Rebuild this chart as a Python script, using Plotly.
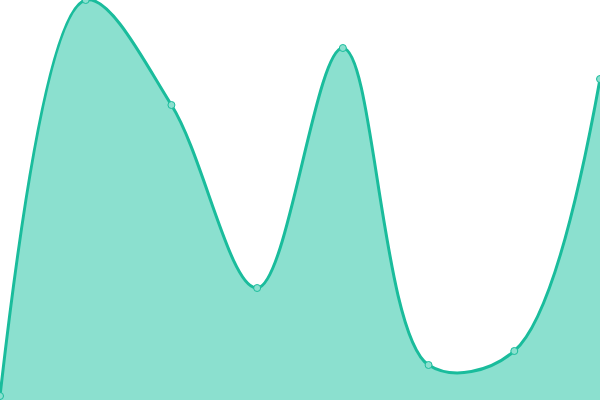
import plotly.graph_objects as go

# point positions and values
x_vals = [0, 1, 2, 3, 4, 5, 6, 7]
y_vals = [4, 400, 295, 112, 352, 35, 49, 321]

line_color = "#1abc9c"
fill_color = "#8be0cf"

fig = go.Figure()
fig.add_trace(go.Scatter(
    x=x_vals,
    y=y_vals,
    mode="lines+markers",
    line=dict(color=line_color, width=3, shape="spline", smoothing=1),
    fill="tozeroy",
    fillcolor=fill_color,
    marker=dict(size=7, color="#8be0cf", line=dict(color=line_color, width=1)),
    cliponaxis=False,
    hoverinfo="skip",
))

fig.update_layout(
    width=600,
    height=400,
    margin=dict(l=0, r=0, t=0, b=0),
    paper_bgcolor="white",
    plot_bgcolor="white",
    showlegend=False,
    xaxis=dict(range=[0, 7], visible=False, fixedrange=True),
    yaxis=dict(range=[0, 400], visible=False, fixedrange=True),
)

# drop the browser's default body margin so the chart sits at the page corner
fig.write_html(
    "out.html",
    config={"displayModeBar": False},
    post_script="document.body.style.margin='0';document.body.style.overflow='hidden';",
)
